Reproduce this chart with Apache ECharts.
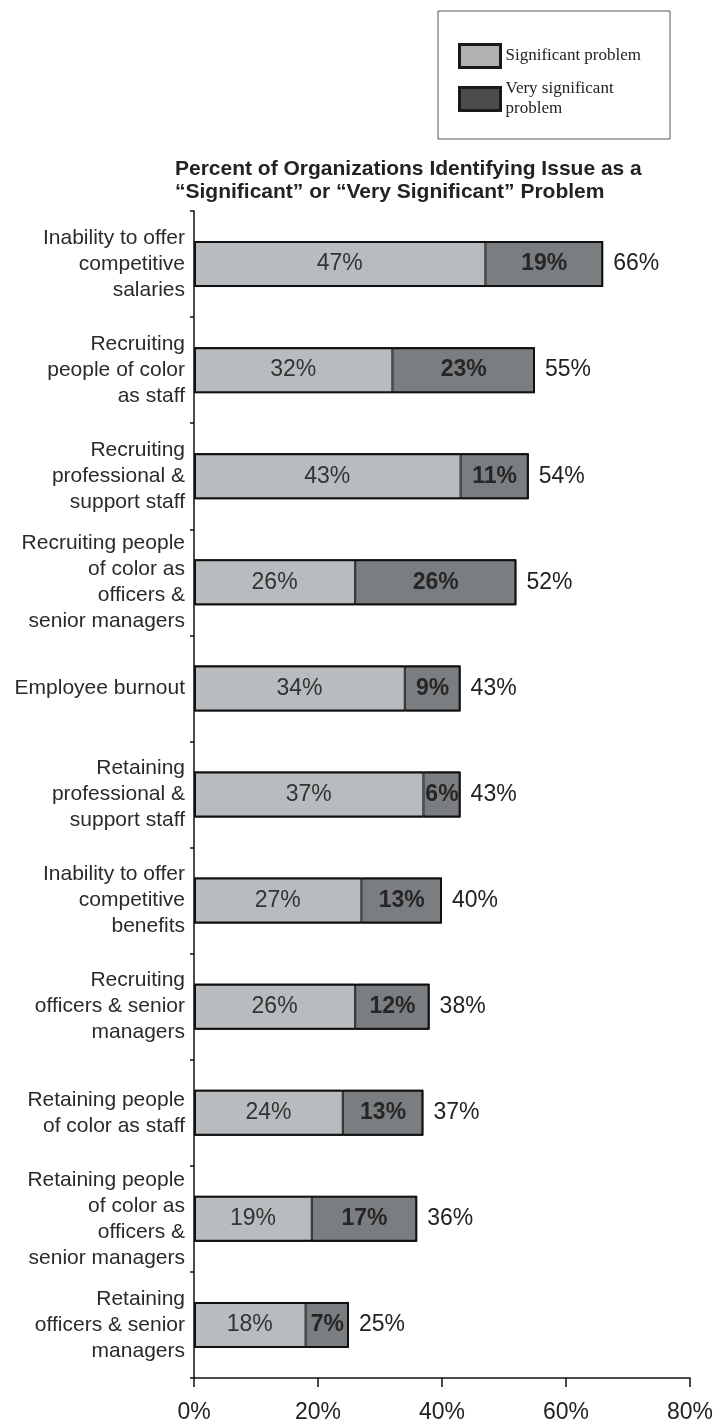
<!DOCTYPE html>
<html>
<head>
<meta charset="utf-8">
<script src="https://cdn.jsdelivr.net/npm/echarts@6/dist/echarts.min.js"></script>
<style>
  html, body { margin: 0; padding: 0; background: #ffffff; }
  #chart { width: 716px; height: 1424px; }
</style>
</head>
<body>
<div id="chart"></div>
<script>
// Issues, top to bottom
const categories = [
  'Inability to offer\ncompetitive\nsalaries',
  'Recruiting\npeople of color\nas staff',
  'Recruiting\nprofessional &\nsupport staff',
  'Recruiting people\nof color as\nofficers &\nsenior managers',
  'Employee burnout',
  'Retaining\nprofessional &\nsupport staff',
  'Inability to offer\ncompetitive\nbenefits',
  'Recruiting\nofficers & senior\nmanagers',
  'Retaining people\nof color as staff',
  'Retaining people\nof color as\nofficers &\nsenior managers',
  'Retaining\nofficers & senior\nmanagers'
];
// Percent of organizations per rating
const significant = [47, 32, 43, 26, 34, 37, 27, 26, 24, 19, 18];
const verySignificant = [19, 23, 11, 26, 9, 6, 13, 12, 13, 17, 7];
// Combined share shown to the right of each bar
const totals = significant.map((v, i) => v + verySignificant[i]);

const xTicks = { min: 0, max: 80, interval: 20 };

const FONT = '"Liberation Sans", Arial, Helvetica, sans-serif';
const SERIF = '"Liberation Serif", "Times New Roman", serif';
const INK = '#222222';
const LIGHT = '#b8bcbe';
const DARK = '#7b7e80';
const BAR_W = 46;

const chart = echarts.init(document.getElementById('chart'), null, { renderer: 'canvas' });

chart.setOption({
  animation: false,
  backgroundColor: '#ffffff',
  title: {
    text: 'Percent of Organizations Identifying Issue as a\n\u201cSignificant\u201d or \u201cVery Significant\u201d Problem',
    left: 175,
    top: 158,
    padding: 0,
    textStyle: {
      fontFamily: FONT,
      fontSize: 21,
      fontWeight: 'bold',
      lineHeight: 23,
      color: INK
    }
  },
  legend: {
    orient: 'vertical',
    left: 438,
    top: 11,
    padding: [32, 29, 15, 20],
    itemGap: 5,
    itemWidth: 41,
    itemHeight: 23,
    borderColor: '#555555',
    borderWidth: 1,
    selectedMode: false,
    icon: 'rect',
    itemStyle: { borderColor: '#1a1a1a', borderWidth: 3 },
    textStyle: {
      fontFamily: SERIF,
      fontSize: 17,
      lineHeight: 20,
      color: INK
    },
    data: [
      { name: 'Significant problem', itemStyle: { color: '#b0b2b4' } },
      {
        name: 'Very significant\nproblem',
        itemStyle: { color: '#4b4c4e' },
        textStyle: { padding: [10, 0, 0, 0] }
      }
    ]
  },
  grid: {
    left: 194,
    right: 23,
    top: 211,
    bottom: 46,
    containLabel: false
  },
  xAxis: {
    type: 'value',
    min: xTicks.min,
    max: xTicks.max,
    interval: xTicks.interval,
    axisLine: { show: true, lineStyle: { color: '#111111', width: 1.5 } },
    axisTick: { show: true, length: 9, lineStyle: { color: '#111111', width: 1.5 } },
    splitLine: { show: false },
    axisLabel: {
      formatter: '{value}%',
      margin: 23,
      fontFamily: FONT,
      fontSize: 23,
      color: INK
    }
  },
  yAxis: {
    type: 'category',
    inverse: true,
    data: categories,
    axisLine: { show: true, lineStyle: { color: '#111111', width: 1.5 } },
    axisTick: { show: true, length: 4, lineStyle: { color: '#111111', width: 1.5 } },
    axisLabel: {
      margin: 9,
      fontFamily: FONT,
      fontSize: 21,
      lineHeight: 26,
      padding: [8, 0, 0, 0],
      color: '#2a2a2a',
      align: 'right'
    }
  },
  series: [
    {
      name: 'Significant problem',
      type: 'bar',
      stack: 'rating',
      barWidth: BAR_W,
      barGap: '-100%',
      data: significant,
      itemStyle: { color: LIGHT, borderColor: '#1a1a1a', borderWidth: 1 },
      label: {
        show: true,
        position: 'inside',
        formatter: '{c}%',
        fontFamily: FONT,
        fontSize: 23,
        color: '#333333'
      }
    },
    {
      name: 'Very significant\nproblem',
      type: 'bar',
      stack: 'rating',
      barWidth: BAR_W,
      barGap: '-100%',
      data: verySignificant,
      itemStyle: { color: DARK, borderColor: '#1a1a1a', borderWidth: 1 },
      label: {
        show: true,
        position: 'inside',
        formatter: '{c}%',
        fontFamily: FONT,
        fontSize: 23,
        fontWeight: 'bold',
        color: '#262626'
      }
    },
    {
      // outline around each combined bar, with the total beside it
      name: 'Total',
      type: 'bar',
      barWidth: BAR_W,
      barGap: '-100%',
      data: totals,
      z: 3,
      itemStyle: { color: 'rgba(0,0,0,0)', borderColor: '#111111', borderWidth: 2 },
      label: {
        show: true,
        position: 'right',
        distance: 10,
        formatter: '{c}%',
        fontFamily: FONT,
        fontSize: 23,
        color: INK
      },
      emphasis: { disabled: true }
    }
  ]
});
</script>
</body>
</html>
